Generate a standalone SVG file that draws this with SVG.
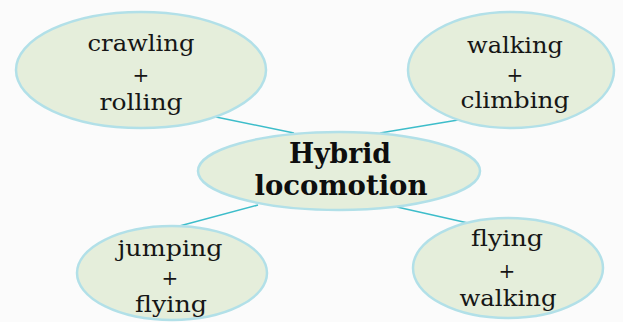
<svg xmlns="http://www.w3.org/2000/svg" width="623" height="322" viewBox="0 0 623 322">
<style>
.node ellipse{fill:#e5eedb;stroke:#b2e0e8;stroke-width:2.5}
.lbl{font-family:"DejaVu Serif","Liberation Serif",serif;font-size:23px;fill:#161616;text-anchor:middle}
.plus{font-family:"DejaVu Serif","Liberation Serif",serif;font-size:20px;fill:#161616;text-anchor:middle}
.title{font-family:"DejaVu Serif","Liberation Serif",serif;font-size:27px;font-weight:bold;fill:#0e0e0e;text-anchor:middle}
.conn line{stroke:#3dbdca;stroke-width:1.6}
</style>
<rect width="623" height="322" fill="#fbfbfb"/>
<g id="connectors" class="conn">
<line x1="216" y1="117" x2="294" y2="133"/>
<line x1="380" y1="133" x2="458" y2="120"/>
<line x1="258" y1="205" x2="172" y2="228"/>
<line x1="397" y1="207" x2="468" y2="223"/>
</g>
<g id="n-crawling" class="node">
<ellipse cx="141" cy="70" rx="125" ry="58"/>
<text class="lbl" x="141" y="51" textLength="107" lengthAdjust="spacingAndGlyphs">crawling</text>
<text class="plus" x="141" y="82">+</text>
<text class="lbl" x="141" y="110" textLength="83" lengthAdjust="spacingAndGlyphs">rolling</text>
</g>
<g id="n-walking" class="node">
<ellipse cx="511" cy="70" rx="103" ry="58"/>
<text class="lbl" x="515" y="53" textLength="96" lengthAdjust="spacingAndGlyphs">walking</text>
<text class="plus" x="515" y="82">+</text>
<text class="lbl" x="515" y="108" textLength="109" lengthAdjust="spacingAndGlyphs">climbing</text>
</g>
<g id="n-hybrid" class="node">
<ellipse cx="339" cy="171" rx="141" ry="39"/>
<text class="title" x="340" y="163" textLength="102" lengthAdjust="spacingAndGlyphs">Hybrid</text>
<text class="title" x="341" y="195" textLength="173" lengthAdjust="spacingAndGlyphs">locomotion</text>
</g>
<g id="n-jumping" class="node">
<ellipse cx="172" cy="273" rx="95" ry="47"/>
<text class="lbl" x="170" y="256" textLength="105" lengthAdjust="spacingAndGlyphs">jumping</text>
<text class="plus" x="170" y="285">+</text>
<text class="lbl" x="171" y="312" textLength="72" lengthAdjust="spacingAndGlyphs">flying</text>
</g>
<g id="n-flying" class="node">
<ellipse cx="508" cy="268" rx="95" ry="50"/>
<text class="lbl" x="507" y="246" textLength="72" lengthAdjust="spacingAndGlyphs">flying</text>
<text class="plus" x="507" y="278">+</text>
<text class="lbl" x="508" y="306" textLength="97" lengthAdjust="spacingAndGlyphs">walking</text>
</g>
</svg>
